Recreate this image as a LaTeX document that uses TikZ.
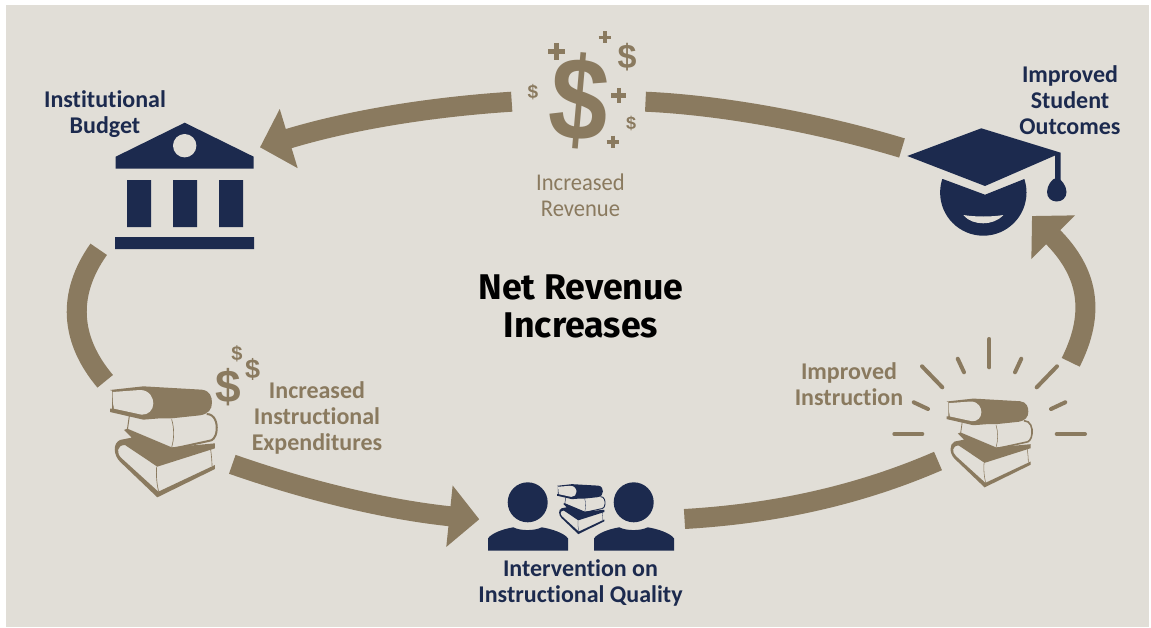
\documentclass[tikz,border=0pt]{standalone}
\usepackage{fontspec}
\setmainfont{Carlito}[Ligatures=NoCommon]
\newfontfamily\tanfont{Carlito}[Ligatures=NoCommon,FakeStretch=0.94]
\newfontfamily\headfont{Fira Sans}
\newfontfamily\dolfont{Liberation Sans}
\usetikzlibrary{arrows.meta}
\definecolor{tan}{HTML}{8A7A5F}
\definecolor{navy}{HTML}{1C2A4E}
\definecolor{bgc}{HTML}{E1DED7}
\tikzset{
  band/.style={draw=tan,line width=20pt,line cap=butt},
  bandarrow/.style={band,-{Triangle[length=30pt,width=60pt]}},
  ray/.style={draw=tan,line width=4pt,line cap=round},
  navylabel/.style={text=navy,font=\fontsize{24}{26}\selectfont\bfseries,align=center,inner sep=0pt},
  tanlabel/.style={text=tan,font=\fontsize{24}{26}\selectfont\bfseries,align=center,inner sep=0pt},
  tanlight/.style={text=tan,font=\fontsize{24}{26}\selectfont\tanfont,align=center,inner sep=0pt},
  headlabel/.style={text=black,font=\fontsize{35.7}{38}\selectfont\headfont\bfseries,align=center,inner sep=0pt},
  sym/.style={text=tan,inner sep=0pt,font=\dolfont\bfseries}
}
\newcommand{\myplus}[4]{%
\draw[tan,line width=#4pt] (#1-#3/2,#2) -- (#1+#3/2,#2) (#1,#2-#3/2) -- (#1,#2+#3/2);}
\newcommand{\mybooks}[4]{%
\begin{scope}[shift={(#1,#2)},x=#3pt,y=-#3pt]
\pgfmathsetmacro{\bs}{#3}
\fill[#4] (72,270) -- (82,266) -- (215,322) -- (345,310) -- (345,325) -- (172,380) -- (75,315) .. controls (50,315) and (48,340) .. (65,355) -- (175,455) -- (345,375) -- (345,387) -- (172,472) -- (60,365) .. controls (40,345) and (38,310) .. (60,300) -- (95,293) -- cycle;
\draw[#4,line width=\bs*2pt] (170,380) .. controls (168,405) and (170,430) .. (176,455);
\draw[#4,line width=\bs*2pt] (332,328) .. controls (334,345) and (336,360) .. (336,378);
\draw[#4,line width=\bs*6pt] (320,222) .. controls (345,222) and (352,250) .. (350,270) .. controls (348,295) and (335,302) .. (330,302) -- (215,327);
\draw[#4,line width=\bs*3pt] (88,228) -- (82,270);
\draw[#4,line width=\bs*2pt] (215,238) .. controls (223,265) and (223,295) .. (215,322);
\fill[#4] (30,150) -- (130,139) -- (305,149) .. controls (330,152) and (336,170) .. (336,188) .. controls (336,208) and (325,222) .. (300,226) -- (215,235) -- (180,235) -- (130,239) -- (30,216) -- (30,206) -- (36,206) -- (36,152) -- cycle;
\fill[bgc] (38,156) -- (120,150) .. controls (150,150) and (160,175) .. (160,190) .. controls (160,210) and (145,225) .. (125,224) -- (42,206) .. controls (38,190) and (38,170) .. cycle;
\end{scope}}
\begin{document}
\begin{tikzpicture}[x=1pt,y=-1pt]
\useasboundingbox (0,0) rectangle (1151,627);
\fill[white] (0,0) rectangle (1151,627);
\fill[bgc] (5.5,5) rectangle (1149,626.5);
% connector ends
\coordinate (a1s) at (511.7,101.7); \coordinate (a1e) at (260,147.3);
\coordinate (a2s) at (645.5,101.7); \coordinate (a2e) at (902,148);
\coordinate (a3s) at (98.7,249.3);  \coordinate (a3e) at (105.2,381.3);
\coordinate (a4s) at (232.3,464.3); \coordinate (a4e) at (479.3,519.3);
\coordinate (a5s) at (684.5,519);   \coordinate (a5e) at (938,461);
\coordinate (a6s) at (1070.7,362.3);\coordinate (a6e) at (1032,216);
\draw[bandarrow] (a1s) .. controls (430,107) and (350,120) .. (a1e);
\draw[band] (a2s) .. controls (720,105) and (816,122) .. (a2e);
\draw[band] (a3s) .. controls (67,294) and (70,339.5) .. (a3e);
\draw[bandarrow] (a4s) .. controls (300,488) and (380,509) .. (a4e);
\draw[band] (a5s) .. controls (770,514) and (855,497) .. (a5e);
\draw[bandarrow] (a6s) .. controls (1096,312) and (1088,272) .. (a6e);
% bank
\fill[navy] (115.7,156.7) -- (184.7,122.7) -- (253.7,156.7) -- (253.7,168.7) -- (115.7,168.7) -- cycle;
\fill[bgc] (184.7,145.7) circle (11.7);
\fill[navy] (127,180) rectangle (151,227) (173,180) rectangle (197,227) (219,180) rectangle (243,227) (115,237) rectangle (254,249);
% cap
\fill[navy] (907.3,156) -- (981.3,128.3) -- (1060.7,152.7) -- (1060.7,180) -- (1055,180) -- (1055,155.5) -- (985,186) -- cycle;
\fill[navy] (1056.5,178) .. controls (1061,178) and (1066.5,186) .. (1066.5,192) .. controls (1066.5,198) and (1062,201.5) .. (1056.7,201.5) .. controls (1051.5,201.5) and (1047,198) .. (1047,192) .. controls (1047,186) and (1052,178) .. cycle;
\begin{scope}
\clip (942.7,179) -- (985,194.7) -- (1024.3,179) -- (1040,179) -- (1040,240) -- (930,240) -- (930,179) -- cycle;
\fill[navy] (983.3,192.5) circle (43.2);
\end{scope}
\fill[bgc] (963.3,215) .. controls (975,217) and (992,217) .. (1003.3,215) .. controls (998,221) and (990,223.3) .. (983.3,223.3) .. controls (976,223.3) and (968,221) .. cycle;
% people
\foreach \dx in {0,106}{
\begin{scope}[xshift=\dx pt]
\fill[navy] (527.7,502.3) circle (20);
\fill[navy] (488,550.7) -- (488,538.3) .. controls (492,533) and (503,529) .. (513.3,527.3) .. controls (520,531) and (535,531) .. (541.7,527.3) .. controls (552,529) and (564,533) .. (568,538.3) -- (568,550.7) -- cycle;
\end{scope}}
% books
\mybooks{100}{340}{0.3333}{tan}
\mybooks{552.5}{463.3}{0.15}{navy}
\mybooks{938.7}{361.5}{0.2667}{tan}
% rays
\draw[ray] (989.3,339) -- (989.3,367.3);
\draw[ray] (957.7,358.7) -- (964,372.3);
\draw[ray] (1021.3,358.7) -- (1015,372.3);
\draw[ray] (922,366.3) -- (942.3,387.3);
\draw[ray] (1057,366.3) -- (1036.7,387.3);
\draw[ray] (913.7,402.3) -- (928,409);
\draw[ray] (1065.3,402.3) -- (1051,409);
\draw[ray] (894.3,434) -- (922.3,434);
\draw[ray] (1056.7,434) -- (1085,434);
% dollars and pluses
\node[sym,rotate=-5,xscale=.9] (d0) at (579,101) {\fontsize{118}{118}\selectfont\$};
\node[sym] (d1) at (533,91.7) {\fontsize{19}{19}\selectfont\$};
\node[sym] (d2) at (627,56.7) {\fontsize{34}{34}\selectfont\$};
\node[sym] (d3) at (631,123) {\fontsize{18}{18}\selectfont\$};
\myplus{556.7}{51.3}{17}{5}
\myplus{604.7}{37.3}{12}{3.6}
\myplus{618.7}{95.3}{15}{4.4}
\myplus{612.7}{141.7}{12}{3.6}
\node[sym] (d4) at (228.3,386.7) {\fontsize{46}{46}\selectfont\$};
\node[sym] (d5) at (252.7,369.3) {\fontsize{27}{27}\selectfont\$};
\node[sym] (d6) at (237,354) {\fontsize{20}{20}\selectfont\$};
% labels
\node[navylabel] (t1) at (105,114) {Institutional\\Budget};
\node[navylabel] (t2) at (1070,100.5) {Improved\\Student\\Outcomes};
\node[tanlight] (t3) at (580.5,195) {Increased\\Revenue};
\node[headlabel] (t4) at (581,306) {Net Revenue\\Increases};
\node[tanlabel] (t5) at (317,418) {Increased\\Instructional\\Expenditures};
\node[tanlabel] (t6) at (849,384) {Improved\\Instruction};
\node[navylabel] (t7) at (580.5,583) {Intervention on\\Instructional Quality};
\end{tikzpicture}
\end{document}
